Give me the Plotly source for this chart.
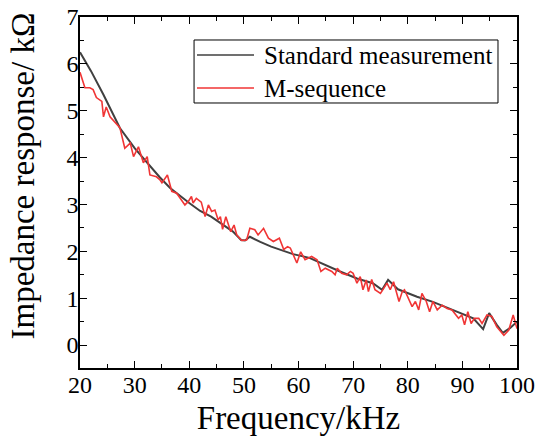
import plotly.graph_objects as go

std_freq = [20, 22, 24.3, 25.5, 27.3, 30, 32.3, 34.6, 36.5, 38.3, 40, 42, 44, 46, 48,
            49.5, 50.2, 51.1, 52, 53, 55, 56.6, 59, 62, 65, 67.6, 70.7, 73.6, 75.3,
            76.4, 78.2, 80, 81.7, 84.6, 88.3, 92, 93.8, 94.9, 96.3, 97.4, 98.7, 100]
std_imp = [6.25, 5.85, 5.34, 5.05, 4.63, 4.2, 3.89, 3.58, 3.35, 3.18, 3.03, 2.86, 2.74,
           2.58, 2.42, 2.24, 2.23, 2.31, 2.25, 2.2, 2.1, 2.03, 1.94, 1.86, 1.7, 1.57,
           1.42, 1.32, 1.18, 1.39, 1.19, 1.1, 1.03, 0.92, 0.75, 0.57, 0.34, 0.68, 0.43,
           0.26, 0.36, 0.5]

m_freq = [20.0, 20.9, 21.8, 22.4, 23.0, 24.0, 24.3, 24.8, 25.5, 27.3, 28.2, 29.2, 29.8,
          30.7, 31.6, 32.3, 32.8, 34.0, 34.6, 35.0, 36.0, 36.8, 37.7, 38.6, 39.2, 39.8,
          40.4, 40.7, 41.3, 42.2, 42.9, 43.5, 44.1, 44.7, 45.3, 45.7, 46.1, 46.7, 47.6,
          48.2, 48.7, 49.6, 50.5, 51.1, 52.0, 52.6, 53.6, 54.5, 55.4, 56.5, 57.3, 58.0,
          58.5, 59.7, 60.4, 61.2, 62.4, 63.4, 64.1, 64.9, 66.1, 66.7, 67.1, 67.9, 68.8,
          69.5, 70.0, 70.7, 71.3, 71.8, 72.4, 72.8, 73.4, 74.0, 75.0, 75.6, 76.2, 76.8,
          77.4, 78.4, 79.0, 79.4, 80.8, 81.4, 82.0, 82.6, 83.4, 84.0, 84.6, 85.4, 86.3,
          87.2, 88.1, 89.3, 89.9, 90.4, 91.0, 91.6, 92.2, 93.0, 93.6, 94.5, 95.4, 96.3,
          97.6, 98.5, 99.3, 100.0]
m_imp = [5.82, 5.49, 5.49, 5.45, 5.28, 5.2, 4.87, 5.08, 4.87, 4.64, 4.2, 4.31, 4.02,
         4.23, 3.89, 4.02, 3.63, 3.59, 3.53, 3.46, 3.63, 3.28, 3.24, 3.1, 2.99, 3.06,
         3.17, 3.03, 3.13, 3.05, 2.74, 2.99, 2.85, 2.88, 2.67, 2.74, 2.47, 2.74, 2.42,
         2.56, 2.35, 2.23, 2.24, 2.49, 2.46, 2.35, 2.49, 2.28, 2.21, 2.28, 2.04, 2.1,
         2.07, 1.75, 1.99, 1.82, 1.89, 1.82, 1.57, 1.64, 1.57, 1.5, 1.64, 1.53, 1.5,
         1.57, 1.53, 1.32, 1.46, 1.18, 1.39, 1.14, 1.40, 1.18, 1.10, 1.21, 1.32, 1.18,
         1.35, 0.93, 1.14, 1.18, 0.82, 0.93, 0.75, 1.10, 0.93, 0.71, 0.93, 0.75, 0.85,
         0.78, 0.75, 0.57, 0.64, 0.43, 0.71, 0.46, 0.57, 0.57, 0.46, 0.64, 0.61, 0.39,
         0.21, 0.32, 0.64, 0.35]

x_ticks = [20, 30, 40, 50, 60, 70, 80, 90, 100]
y_ticks = [0, 1, 2, 3, 4, 5, 6, 7]
series_names = ["Standard measurement", "M-sequence"]
series_colors = ["#404040", "#f03535"]
x_title = "Frequency/kHz"
y_title = "Impedance response/ kΩ"

FONT = "Liberation Serif"

fig = go.Figure()
fig.add_trace(go.Scatter(x=std_freq, y=std_imp, mode="lines", name=series_names[0],
                         line=dict(color=series_colors[0], width=2)))
fig.add_trace(go.Scatter(x=m_freq, y=m_imp, mode="lines", name=series_names[1],
                         line=dict(color=series_colors[1], width=1.6)))

axis_common = dict(showline=True, linecolor="black", linewidth=1.5, mirror="allticks",
                   ticks="inside", ticklen=7, tickwidth=1.3, tickcolor="black",
                   showgrid=False, zeroline=False, automargin=False,
                   tickfont=dict(family=FONT, size=24, color="black"))

fig.update_xaxes(range=[20, 100], tickvals=x_ticks, ticktext=[str(v) for v in x_ticks],
                 ticklabelstandoff=-6,
                 minor=dict(ticks="inside", ticklen=4, tickwidth=1.2, tickcolor="black", dtick=5, tick0=20),
                 title=dict(text=x_title, font=dict(family=FONT, size=33, color="black"), standoff=9),
                 **axis_common)
fig.update_yaxes(range=[-0.49, 7], tickvals=y_ticks, ticktext=[str(v) for v in y_ticks],
                 ticklabelstandoff=-5,
                 minor=dict(ticks="inside", ticklen=4, tickwidth=1.2, tickcolor="black", dtick=0.5, tick0=0),
                 **axis_common)

# y-axis title as rotated annotation (placed slightly above plot centre as in the reference)
fig.add_annotation(xref="paper", yref="paper", x=-0.1293, y=0.547, xanchor="center", yanchor="middle",
                   text=y_title, textangle=-90, showarrow=False,
                   font=dict(family=FONT, size=33, color="black"))

# legend drawn in paper coordinates
lx0, lx1, ly0, ly1 = 0.261, 0.9565, 0.755, 0.9345
row_y = [0.8917, 0.7977]
fig.add_shape(type="rect", xref="paper", yref="paper", x0=lx0, x1=lx1, y0=ly0, y1=ly1,
              line=dict(color="black", width=1), fillcolor="white", layer="above")
for name, color, ry in zip(series_names, series_colors, row_y):
    fig.add_shape(type="line", xref="paper", yref="paper", x0=0.2677, x1=0.3982, y0=ry, y1=ry,
                  line=dict(color=color, width=1.6), layer="above")
    fig.add_annotation(xref="paper", yref="paper", x=0.4165, y=ry, xanchor="left", yanchor="middle",
                       text=name, showarrow=False, font=dict(family=FONT, size=25, color="black"))

fig.update_layout(
    width=537, height=442,
    margin=dict(l=80, r=20, t=17, b=74),
    font=dict(family=FONT, color="black"),
    paper_bgcolor="white", plot_bgcolor="white",
    showlegend=False,
)

fig.write_html("out.html", config={"displayModeBar": False},
               post_script="document.body.style.margin='0';document.body.style.overflow='hidden';")
